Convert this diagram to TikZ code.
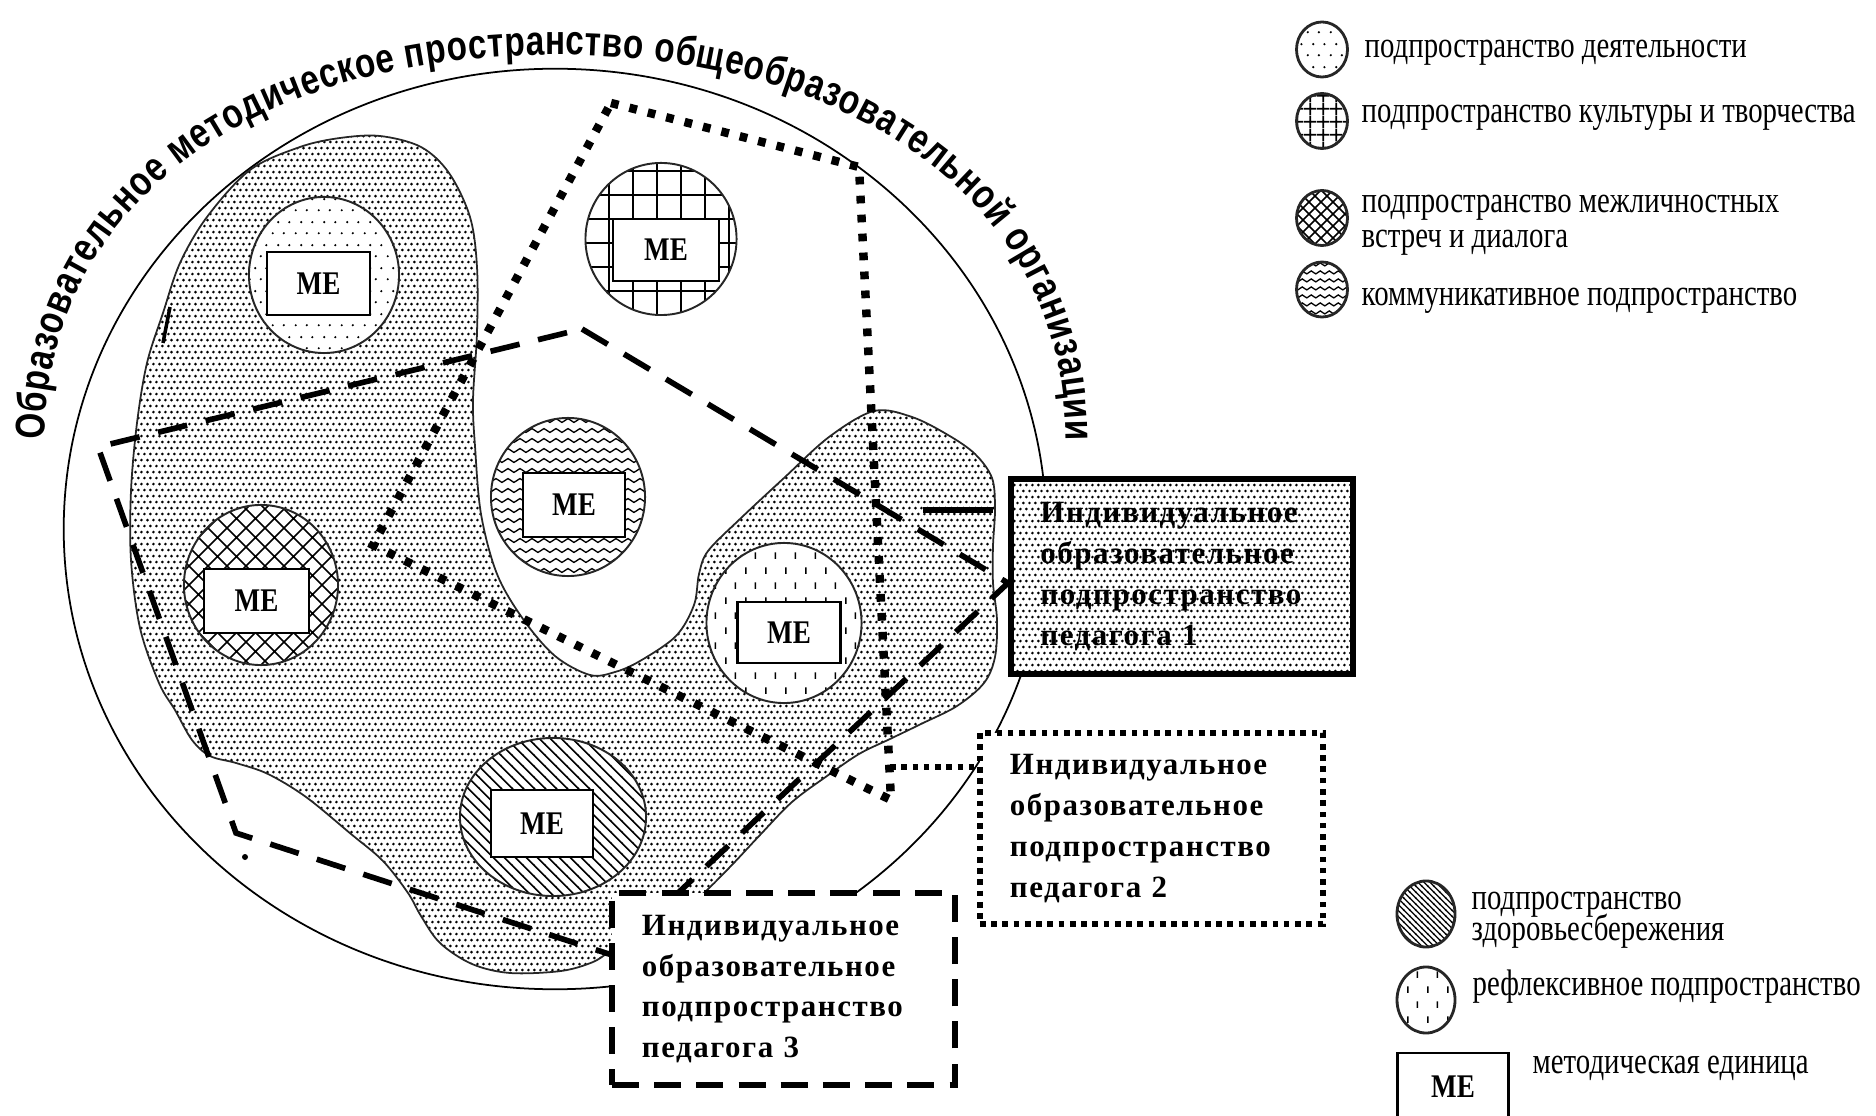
\documentclass[tikz,border=0pt]{standalone}
\usepackage{fontspec}
\setmainfont{Liberation Serif}
\newfontfamily\titlefamily{Liberation Sans}[FakeStretch=0.8]
\newfontfamily\mefamily{Liberation Serif}[FakeStretch=0.82]
\newfontfamily\boxfamily{Liberation Serif}[LetterSpace=5]
\newfontfamily\legfamily{Liberation Serif}[FakeStretch=0.78]
\newcommand\myTitleFont{\titlefamily\bfseries\fontsize{11.8pt}{14pt}\selectfont}
\newcommand\myMeFont{\mefamily\bfseries\fontsize{9.4pt}{11pt}\selectfont}
\newcommand\myBoxFont{\boxfamily\bfseries\fontsize{8.8pt}{11.6pt}\selectfont}
\newcommand\myLegFont{\legfamily\fontsize{10.5pt}{12pt}\selectfont}
\usetikzlibrary{patterns.meta,shapes.geometric,decorations.text}

% ---------- patterns ----------
\tikzdeclarepattern{name=stip, type=uncolored,
  bounding box={(0pt,0pt) and (3.4pt,3.4pt)}, tile size={(3.4pt,3.4pt)},
  code={\fill (0.425pt,0.85pt) circle[radius=0.42pt];
        \fill (2.125pt,0.85pt) circle[radius=0.42pt];
        \fill (1.275pt,2.55pt) circle[radius=0.42pt];
        \fill (2.975pt,2.55pt) circle[radius=0.42pt];}}
\tikzdeclarepattern{name=sparse, type=uncolored,
  bounding box={(0pt,0pt) and (6.4pt,6.4pt)}, tile size={(6.4pt,6.4pt)},
  code={\fill (0.8pt,0.8pt) circle[radius=0.35pt];
        \fill (4.0pt,0.8pt) circle[radius=0.35pt];
        \fill (2.4pt,4.0pt) circle[radius=0.35pt];
        \fill (5.6pt,4.0pt) circle[radius=0.35pt];}}
\tikzdeclarepattern{name=biggrid, type=uncolored,
  bounding box={(0pt,0pt) and (6.8pt,6.8pt)}, tile size={(6.8pt,6.8pt)},
  code={\draw[line width=0.5pt] (0pt,3.4pt)--(6.8pt,3.4pt) (3.4pt,0pt)--(3.4pt,6.8pt);}}
\tikzdeclarepattern{name=lgrid, type=uncolored,
  bounding box={(0pt,0pt) and (3.6pt,3.6pt)}, tile size={(3.6pt,3.6pt)},
  code={\draw[line width=0.5pt] (0pt,1.8pt)--(3.6pt,1.8pt) (1.8pt,0pt)--(1.8pt,3.6pt);}}
\tikzdeclarepattern{name=xhatch, type=uncolored,
  bounding box={(0pt,0pt) and (5.4pt,5.4pt)}, tile size={(5.4pt,5.4pt)},
  code={\draw[line width=0.45pt] (-1pt,-1pt)--(6.4pt,6.4pt) (-1pt,6.4pt)--(6.4pt,-1pt);}}
\tikzdeclarepattern{name=lxhatch, type=uncolored,
  bounding box={(0pt,0pt) and (3.4pt,3.4pt)}, tile size={(3.4pt,3.4pt)},
  code={\draw[line width=0.45pt] (-1pt,-1pt)--(4.4pt,4.4pt) (-1pt,4.4pt)--(4.4pt,-1pt);}}
\tikzdeclarepattern{name=wave, type=uncolored,
  bounding box={(0pt,0pt) and (3.4pt,2.85pt)}, tile size={(3.4pt,2.85pt)},
  code={\draw[line width=0.4pt] (-1.7pt,2.0pt)--(0pt,0.8pt)--(1.7pt,2.0pt)--(3.4pt,0.8pt)--(5.1pt,2.0pt);}}
\tikzdeclarepattern{name=lwave, type=uncolored,
  bounding box={(0pt,0pt) and (2.6pt,2.3pt)}, tile size={(2.6pt,2.3pt)},
  code={\draw[line width=0.4pt] (-1.3pt,1.6pt)--(0pt,0.7pt)--(1.3pt,1.6pt)--(2.6pt,0.7pt)--(3.9pt,1.6pt);}}
\tikzdeclarepattern{name=nwl, type=uncolored,
  bounding box={(0pt,0pt) and (3.1pt,3.1pt)}, tile size={(3.1pt,3.1pt)},
  code={\draw[line width=0.45pt] (-1pt,4.1pt)--(4.1pt,-1pt) (-1pt,1pt)--(1pt,-1pt) (2.1pt,4.1pt)--(4.1pt,2.1pt);}}
\tikzdeclarepattern{name=lnwl, type=uncolored,
  bounding box={(0pt,0pt) and (1.8pt,1.8pt)}, tile size={(1.8pt,1.8pt)},
  code={\draw[line width=0.4pt] (-1pt,2.8pt)--(2.8pt,-1pt) (-1pt,1pt)--(1pt,-1pt) (0.8pt,2.8pt)--(2.8pt,0.8pt);}}
\tikzdeclarepattern{name=rdash, type=uncolored,
  bounding box={(0pt,0pt) and (5.7pt,8.5pt)}, tile size={(5.7pt,8.5pt)},
  code={\draw[line width=0.45pt] (1.42pt,1.2pt)--(1.42pt,3.05pt) (4.27pt,5.45pt)--(4.27pt,7.3pt);}}

\begin{document}
\begin{tikzpicture}[x=0.01cm,y=-0.01cm,
  subsp/.style={ellipse, draw=black!85, line width=0.55pt, inner sep=0pt, preaction={fill=white}},
  legcirc/.style={subsp, line width=0.8pt},
  mebox/.style={rectangle, draw, line width=0.7pt, fill=white, inner sep=0pt, font=\myMeFont},
  tbox/.style={rectangle, inner sep=0pt, text width=2.83cm, align=left, font=\myBoxFont},
  dotpoly/.style={line width=2.4pt, dash pattern=on 2.2pt off 3.2pt},
  dotfine/.style={line width=1.8pt, dash pattern=on 1.6pt off 1.6pt},
  dashpoly/.style={line width=1.6pt, dash pattern=on 8.5pt off 5.4pt},
  dashbox/.style={line width=1.8pt, dash pattern=on 7.7pt off 4.3pt},
  legtext/.style={anchor=base west, inner sep=0pt, font=\myLegFont}]
\useasboundingbox (0,0) rectangle (1876,1116);

% main space
\node[ellipse, draw, line width=0.5pt, inner sep=0pt, minimum width=9.82cm, minimum height=9.2cm] (main) at (555,529) {};

% individual space of teacher 1 (stippled blob)
\path[draw=black!85, line width=0.5pt, preaction={fill=white}, pattern=stip]
  plot[smooth cycle, tension=0.55] coordinates {
  (380,136) (421,147) (449,173) (470,217) (477,267) (477,333) (473,400) (475,446)
  (481,514) (497,574) (523,619) (555,656) (590,675) (615,672) (640,661) (676,636)
  (694,605) (699,574) (708,551) (740,519) (784,478) (829,437) (874,411) (912,417)
  (948,435) (975,454) (992,478) (995,509) (993,546) (993,583) (997,620) (995,657)
  (984,683) (957,706) (921,724) (890,739) (859,754) (827,776) (792,802) (760,835)
  (729,868) (698,898) (660,925) (630,942) (612,950) (593,962) (561,971) (510,973)
  (472,964) (440,943) (421,916) (408,893) (383,861) (351,834) (306,797) (268,774)
  (236,763) (210,756) (192,740) (175,710) (159,683) (140,628) (131,560) (131,491)
  (137,423) (147,363) (163,313) (180,263) (207,217) (250,170) (300,147) (340,138)};
\draw[line width=1pt] (170,307) -- (163,343);

% subspaces with methodical units
\node[subsp, pattern=sparse,  minimum width=1.50cm, minimum height=1.56cm] (c1) at (324,275) {};
\node[mebox, minimum width=1.03cm, minimum height=0.63cm] (m1) at (318.5,283.5) {МЕ};
\node[subsp, pattern=biggrid, minimum width=1.51cm, minimum height=1.52cm] (c2) at (661,239) {};
\node[mebox, minimum width=1.06cm, minimum height=0.62cm] (m2) at (666,250) {МЕ};
\node[subsp, pattern=wave,    minimum width=1.54cm, minimum height=1.58cm] (c3) at (568,497) {};
\node[mebox, minimum width=1.02cm, minimum height=0.64cm] (m3) at (574,505) {МЕ};
\node[subsp, pattern=xhatch,  minimum width=1.54cm, minimum height=1.60cm] (c4) at (261,585) {};
\node[mebox, minimum width=1.05cm, minimum height=0.64cm] (m4) at (256.5,601) {МЕ};
\node[subsp, pattern=rdash,   minimum width=1.55cm, minimum height=1.60cm] (c5) at (784,623) {};
\node[mebox, minimum width=1.03cm, minimum height=0.61cm] (m5) at (789,632.5) {МЕ};
\node[subsp, pattern=nwl,     minimum width=1.86cm, minimum height=1.58cm] (c6) at (553,817) {};
\node[mebox, minimum width=1.02cm, minimum height=0.67cm] (m6) at (542,823.5) {МЕ};

% individual space of teacher 2 (dotted polygon)
\coordinate (d1) at (611,103);
\coordinate (d2) at (859,167);
\coordinate (d3) at (891,800);
\coordinate (d4) at (373,545);
\draw[dotpoly] (d1) -- (d2) -- (d3) -- (d4) -- cycle;

% individual space of teacher 3 (dashed polygon)
\coordinate (t1) at (582,329);
\coordinate (t2) at (1008,583);
\coordinate (t3) at (612,955);
\coordinate (t4) at (236,833);
\coordinate (t5) at (98,447);
\draw[dashpoly] (t1) -- (t2) -- (t3) -- (t4) -- (t5) -- cycle;
\fill (245,857) circle[radius=3];

% labelled boxes
\node[tbox, draw, line width=1.8pt, preaction={fill=white}, pattern=stip,
      minimum width=3.42cm, minimum height=1.95cm] (box1) at (1182,576.5)
      {Индивидуальное\\образовательное\\подпространство\\педагога 1};
\node[tbox, draw, dotfine, fill=white,
      minimum width=3.43cm, minimum height=1.91cm] (box2) at (1151.5,828.5)
      {Индивидуальное\\образовательное\\подпространство\\педагога 2};
\node[tbox, draw, dashbox, fill=white,
      minimum width=3.43cm, minimum height=1.92cm] (box3) at (783.5,989)
      {Индивидуальное\\образовательное\\подпространство\\педагога 3};

% leaders
\coordinate (l1a) at (923,510);
\coordinate (l1b) at (993,510);
\draw[line width=1.5pt] (l1a) -- (l1b);
\coordinate (l2a) at (890,767);
\draw[dotfine] (l2a) -- (box2.west |- l2a);

% title along the arc
\path[decorate, decoration={text along path, text align={fit to path},
   text={|\myTitleFont|Образовательное методическое пространство общеобразовательной организации}}]
  (45,440) .. controls (45,208) and (249,55) .. (555.5,55)
           .. controls (862,55) and (1066,208) .. (1066,440);

% legend
\node[legcirc, pattern=sparse,  minimum width=0.51cm, minimum height=0.55cm] (lg1) at (1322,49.5) {};
\node[legtext] (lt1) at (1364,58) {подпространство деятельности};
\node[legcirc, pattern=lgrid,   minimum width=0.51cm, minimum height=0.55cm] (lg2) at (1322,121) {};
\node[legtext] (lt2) at (1361,123) {подпространство культуры и творчества};
\node[legcirc, pattern=lxhatch, minimum width=0.51cm, minimum height=0.55cm] (lg3) at (1322,218) {};
\node[legtext] (lt3a) at (1361,213) {подпространство межличностных};
\node[legtext] (lt3b) at (1361,248) {встреч и диалога};
\node[legcirc, pattern=lwave,   minimum width=0.51cm, minimum height=0.55cm] (lg4) at (1322,289.5) {};
\node[legtext] (lt4) at (1361,306) {коммуникативное подпространство};

\node[legcirc, pattern=lnwl,  minimum width=0.58cm, minimum height=0.66cm] (lg5) at (1426,914) {};
\node[legtext] (lt5a) at (1471,909) {подпространство};
\node[legtext] (lt5b) at (1471,940) {здоровьесбережения};
\node[legcirc, pattern=rdash, minimum width=0.58cm, minimum height=0.66cm] (lg6) at (1426,1000) {};
\node[legtext] (lt6) at (1472,995) {рефлексивное подпространство};
\node[mebox, minimum width=1.11cm, minimum height=0.68cm] (lme) at (1453,1087) {МЕ};
\node[legtext] (lt7) at (1532,1073) {методическая единица};
\end{tikzpicture}
\end{document}
